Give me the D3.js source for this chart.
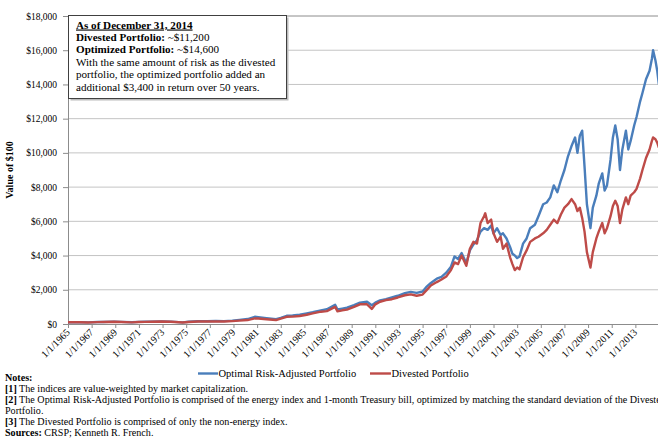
<!DOCTYPE html>
<html>
<head>
<meta charset="utf-8">
<script src="https://cdn.jsdelivr.net/npm/d3@7"></script>
<style>
  body { margin: 0; background: #fff; }
  svg { display: block; font-family: "Liberation Serif", "Times New Roman", serif; }
</style>
</head>
<body>
<svg id="chart" width="658" height="438"></svg>
<script>
// Value of $100 as [decimal year, value]
const optimalSeries = [
  [1965.0,100],[1965.5,105],[1966.0,110],[1966.7,95],[1967.5,115],[1968.0,120],[1968.9,140],[1969.5,125],
  [1970.4,100],[1971.0,125],[1971.5,130],[1972.0,140],[1972.9,155],[1973.7,140],[1974.7,95],[1975.2,130],
  [1976.0,160],[1976.8,165],[1977.5,175],[1978.2,170],[1978.9,200],[1979.5,240],[1980.2,290],[1980.8,420],
  [1981.1,400],[1981.8,340],[1982.6,280],[1983.0,360],[1983.5,480],[1984.0,500],[1984.6,540],[1985.2,620],
  [1985.7,690],[1986.4,800],[1986.9,860],[1987.6,1120],[1987.8,850],[1988.2,900],[1988.6,950],[1989.2,1100],
  [1989.7,1250],[1990.3,1300],[1990.7,1100],[1991.0,1250],[1991.4,1380],[1991.9,1450],[1992.4,1550],[1992.9,1650],
  [1993.5,1800],[1994.0,1880],[1994.5,1820],[1995.0,1900],[1995.3,2150],[1995.7,2400],[1996.2,2650],[1996.6,2750],
  [1997.0,3000],[1997.4,3350],[1997.7,3950],[1998.0,3800],[1998.3,4150],[1998.7,3550],[1999.0,4300],[1999.3,4650],
  [1999.6,4900],[1999.9,5400],[2000.2,5600],[2000.5,5500],[2000.8,5750],[2001.0,5300],[2001.3,5600],[2001.6,5200],
  [2001.8,5300],[2002.1,5000],[2002.4,4500],[2002.6,4100],[2002.8,4000],[2003.0,3850],[2003.2,3950],[2003.5,4700],
  [2003.8,5000],[2004.1,5600],[2004.5,5800],[2004.8,6300],[2005.2,7000],[2005.5,7100],[2005.8,7400],[2006.1,8100],
  [2006.4,7700],[2006.7,8400],[2007.0,9000],[2007.3,9800],[2007.6,10400],[2007.9,10900],[2008.1,10000],[2008.3,11000],
  [2008.5,11300],[2008.7,9200],[2008.9,7000],[2009.2,5600],[2009.4,6800],[2009.7,7500],[2009.9,8200],[2010.2,8800],
  [2010.4,7800],[2010.6,8100],[2010.9,9600],[2011.1,10900],[2011.3,11600],[2011.5,10800],[2011.7,9000],[2011.9,10200],
  [2012.2,11300],[2012.4,10200],[2012.6,10700],[2012.9,11600],[2013.1,12100],[2013.4,13000],[2013.6,13500],[2013.9,14300],
  [2014.2,14800],[2014.4,15500],[2014.5,16000],[2014.7,15400],[2014.85,14800],[2014.99,14000]
];

const divestedSeries = [
  [1965.0,100],[1965.5,100],[1966.0,105],[1966.7,90],[1967.5,110],[1968.0,115],[1968.9,135],[1969.5,120],
  [1970.4,95],[1971.0,120],[1971.5,125],[1972.0,135],[1972.9,150],[1973.7,130],[1974.7,85],[1975.2,120],
  [1976.0,145],[1976.8,150],[1977.5,150],[1978.2,145],[1978.9,170],[1979.5,200],[1980.2,230],[1980.8,330],
  [1981.1,320],[1981.8,280],[1982.6,230],[1983.0,310],[1983.5,420],[1984.0,430],[1984.6,470],[1985.2,540],
  [1985.7,620],[1986.4,720],[1986.9,750],[1987.6,1000],[1987.8,740],[1988.2,800],[1988.6,840],[1989.2,1000],
  [1989.7,1150],[1990.3,1150],[1990.7,880],[1991.0,1150],[1991.4,1300],[1991.9,1400],[1992.4,1450],[1992.9,1550],
  [1993.5,1680],[1994.0,1730],[1994.5,1650],[1995.0,1720],[1995.3,1950],[1995.7,2250],[1996.2,2450],[1996.6,2600],
  [1997.0,2780],[1997.4,3150],[1997.7,3600],[1998.0,3500],[1998.3,4000],[1998.7,3400],[1999.0,4400],[1999.3,4800],
  [1999.6,4700],[1999.9,5900],[2000.2,6300],[2000.3,6470],[2000.5,5900],[2000.8,6100],[2001.0,5300],[2001.3,4800],
  [2001.6,5100],[2001.8,4400],[2002.1,4700],[2002.4,3900],[2002.6,3500],[2002.8,3150],[2003.0,3300],[2003.2,3200],
  [2003.5,3900],[2003.8,4300],[2004.1,4800],[2004.5,5000],[2004.8,5100],[2005.2,5300],[2005.5,5500],[2005.8,5800],
  [2006.1,6100],[2006.4,5900],[2006.7,6400],[2007.0,6800],[2007.3,7000],[2007.6,7300],[2007.9,7000],[2008.1,6600],
  [2008.3,6800],[2008.5,6200],[2008.7,5400],[2008.9,4200],[2009.2,3300],[2009.4,4200],[2009.7,5000],[2009.9,5400],
  [2010.2,5900],[2010.4,5300],[2010.6,5600],[2010.9,6300],[2011.1,6900],[2011.3,7200],[2011.5,6900],[2011.7,5900],
  [2011.9,6700],[2012.2,7400],[2012.4,7000],[2012.6,7500],[2012.9,7700],[2013.1,7900],[2013.4,8500],[2013.6,9000],
  [2013.9,9700],[2014.2,10200],[2014.4,10700],[2014.5,10900],[2014.7,10800],[2014.85,10600],[2014.99,10300]
];

const yTicks = [0, 2000, 4000, 6000, 8000, 10000, 12000, 14000, 16000, 18000];
const xTickYears = [1965,1967,1969,1971,1973,1975,1977,1979,1981,1983,1985,1987,1989,
                    1991,1993,1995,1997,1999,2001,2003,2005,2007,2009,2011,2013];

const seriesNames = ["Optimal Risk-Adjusted Portfolio", "Divested Portfolio"];
const seriesColors = ["#4a7ebb", "#be4b48"];

const boxLines = [
  { bold: "As of December 31, 2014", rest: "", underline: true },
  { bold: "Divested Portfolio:", rest: " ~$11,200" },
  { bold: "Optimized Portfolio:", rest: " ~$14,600" },
  { bold: "", rest: "With the same amount of risk as the divested" },
  { bold: "", rest: "portfolio, the optimized portfolio added an" },
  { bold: "", rest: "additional $3,400 in return over 50 years." }
];

const noteLines = [
  { bold: "Notes:", rest: "" },
  { bold: "[1]", rest: " The indices are value-weighted by market capitalization." },
  { bold: "[2]", rest: " The Optimal Risk-Adjusted Portfolio is comprised of the energy index and 1-month Treasury bill, optimized by matching the standard deviation of the Divested" },
  { bold: "", rest: "Portfolio." },
  { bold: "[3]", rest: " The Divested Portfolio is comprised of only the non-energy index." },
  { bold: "Sources:", rest: " CRSP; Kenneth R. French." }
];

const svg = d3.select("#chart");
const plotLeft = 68, plotRight = 659, plotTop = 16, plotBottom = 324;

const x = d3.scaleLinear().domain([1965, 2015]).range([plotLeft, plotRight]);
const y = d3.scaleLinear().domain([0, 18000]).range([plotBottom, plotTop]);

// gridlines
svg.append("g")
  .selectAll("line")
  .data(yTicks.filter(d => d > 0))
  .enter()
  .append("line")
  .attr("x1", plotLeft).attr("x2", plotRight)
  .attr("y1", d => y(d)).attr("y2", d => y(d))
  .attr("stroke", d => d === 18000 ? "#8c8c8c" : "#c4c4c4")
  .attr("stroke-width", 1);

// y axis
const yAxis = svg.append("g")
  .attr("transform", `translate(${plotLeft},0)`)
  .call(d3.axisLeft(y).tickValues(yTicks).tickSize(5).tickPadding(6)
    .tickFormat(d => "$" + d3.format(",")(d)));
yAxis.select(".domain").attr("stroke", "#8c8c8c");
yAxis.selectAll(".tick line").attr("stroke", "#8c8c8c");
yAxis.selectAll("text").attr("font-family", "Liberation Serif").attr("font-size", 9.5).attr("fill", "#000");

// x axis
const xAxis = svg.append("g")
  .attr("transform", `translate(0,${plotBottom})`)
  .call(d3.axisBottom(x).tickValues(xTickYears).tickSize(4).tickSizeOuter(0)
    .tickFormat(d => "1/1/" + d));
xAxis.select(".domain").attr("stroke", "#8c8c8c");
xAxis.selectAll(".tick line").attr("stroke", "#8c8c8c");
xAxis.selectAll("text")
  .attr("font-family", "Liberation Serif").attr("font-size", 10).attr("fill", "#000")
  .attr("text-anchor", "end")
  .attr("dy", null)
  .attr("y", 0)
  .attr("transform", "translate(2,9) rotate(-45)");

// lines
const line = d3.line().x(d => x(d[0])).y(d => y(d[1]));
[optimalSeries, divestedSeries].forEach((s, i) => {
  svg.append("path")
    .datum(s)
    .attr("fill", "none")
    .attr("stroke", seriesColors[i])
    .attr("stroke-width", 2.4)
    .attr("stroke-linejoin", "round")
    .attr("d", line);
});

// y axis title
svg.append("text")
  .attr("transform", "translate(13,170) rotate(-90)")
  .attr("text-anchor", "middle")
  .attr("font-size", 10)
  .attr("font-weight", "bold")
  .text("Value of $100");

// annotation box
const box = svg.append("g");
box.append("rect")
  .attr("x", 70.5).attr("y", 17.5).attr("width", 218).attr("height", 83)
  .attr("fill", "#bbb");
box.append("rect")
  .attr("x", 68.5).attr("y", 15.5).attr("width", 218).attr("height", 83)
  .attr("fill", "#fff").attr("stroke", "#404040").attr("stroke-width", 1);
boxLines.forEach((l, i) => {
  const t = box.append("text")
    .attr("x", 76).attr("y", 28.5 + i * 12.4)
    .attr("font-size", 11.1);
  if (l.bold) {
    t.append("tspan").attr("font-weight", "bold")
      .attr("text-decoration", l.underline ? "underline" : null)
      .text(l.bold);
  }
  if (l.rest) t.append("tspan").text(l.rest);
});

// legend
const legend = svg.append("g");
const legendX = [198, 370];
const legendText = [218, 391];
seriesNames.forEach((n, i) => {
  legend.append("line")
    .attr("x1", legendX[i]).attr("x2", legendText[i])
    .attr("y1", 373.5).attr("y2", 373.5)
    .attr("stroke", seriesColors[i]).attr("stroke-width", 2.4);
  legend.append("text")
    .attr("x", legendText[i] + 0.5).attr("y", 377.3)
    .attr("font-size", 10.5)
    .text(n);
});

// notes
noteLines.forEach((l, i) => {
  const t = svg.append("text")
    .attr("x", 5).attr("y", 380.5 + i * 11)
    .attr("font-size", 10.1);
  if (l.bold) t.append("tspan").attr("font-weight", "bold").text(l.bold);
  if (l.rest) t.append("tspan").text(l.rest);
});
</script>
</body>
</html>
